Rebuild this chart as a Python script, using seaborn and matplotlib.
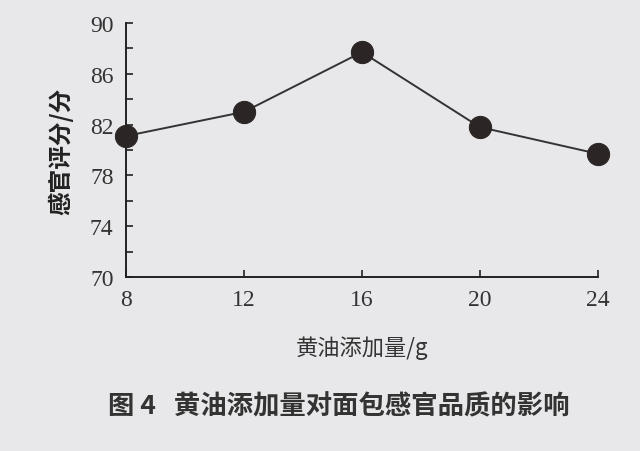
import numpy as np
import pandas as pd
import matplotlib
matplotlib.use('Agg')
import matplotlib.pyplot as plt
from matplotlib.ticker import FixedLocator
import seaborn as sns

# data
butter_g = [8, 12, 16, 20, 24]
sensory_score = [81.1, 83.0, 87.7, 81.8, 79.7]
y_major = [70, 74, 78, 82, 86, 90]
y_minor = [72, 76, 80, 84, 88]

df = pd.DataFrame({'butter': butter_g, 'score': sensory_score})

sns.set_style('ticks')
plt.rcParams['font.family'] = ['Liberation Serif', 'Noto Sans CJK SC', 'DejaVu Sans']

bg = '#e8e8ea'
fig = plt.figure(figsize=(6.4, 4.52), dpi=100, facecolor=bg)
ax = fig.add_axes([0.197, 0.385, 0.737, 0.562], facecolor=bg)

sns.lineplot(data=df, x='butter', y='score', ax=ax, color='#333333', linewidth=1.4,
             marker='o', markersize=16, markerfacecolor='#2b2525',
             markeredgecolor='#2b2525', clip_on=False, zorder=5)

ax.set_xlim(8, 24)
ax.set_ylim(70, 90)
ax.set_xticks(butter_g)
ax.set_yticks(y_major)
ax.yaxis.set_minor_locator(FixedLocator(y_minor))
ax.tick_params(axis='both', which='both', direction='in', colors='#222222',
               labelsize=17, labelcolor='#333333', width=1.2)
ax.tick_params(axis='both', which='major', length=5, pad=9)
ax.tick_params(axis='y', which='minor', length=5)
for s in ['top', 'right']:
    ax.spines[s].set_visible(False)
for s in ['left', 'bottom']:
    ax.spines[s].set_linewidth(1.4)
    ax.spines[s].set_color('#222222')

ax.set_xlabel('黄油添加量/g', fontsize=16, color='#333333',
              family=['Noto Sans CJK SC', 'DejaVu Sans'], labelpad=18)
ax.set_ylabel('感官评分/分', fontsize=17, color='#222222', fontweight='bold',
              family=['Noto Sans CJK SC', 'DejaVu Sans'], labelpad=12)

fig.text(0.53, 0.1, '图 4   黄油添加量对面包感官品质的影响', ha='center', va='center',
         fontsize=19, fontweight='bold', color='#333333',
         family=['Noto Sans CJK SC', 'DejaVu Sans'])

fig.savefig('out.png', dpi=100, facecolor=bg)
